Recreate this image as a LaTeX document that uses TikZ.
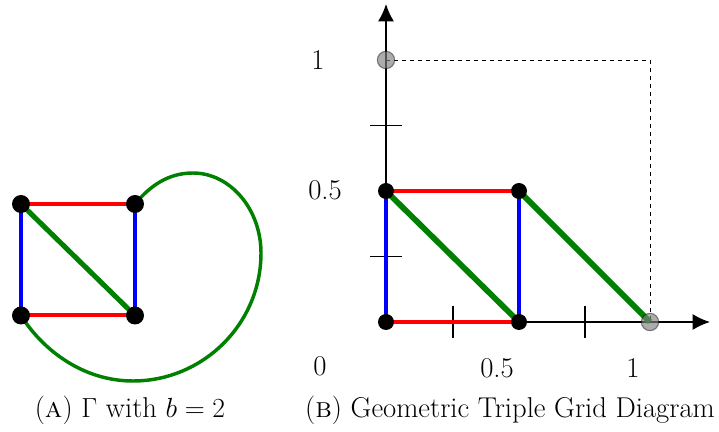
\documentclass[tikz,border=0pt]{standalone}
\usetikzlibrary{arrows.meta}
\definecolor{ggreen}{RGB}{0,128,0}
\begin{document}
\begin{tikzpicture}[x=0.75pt,y=0.75pt,
  dot/.style={circle,fill=black,inner sep=0pt,minimum size=13.5pt},
  sdot/.style={circle,fill=black,inner sep=0pt,minimum size=12pt},
  gdot/.style={circle,fill=gray,fill opacity=0.65,draw=black,draw opacity=0.45,line width=0.8pt,inner sep=0pt,minimum size=13pt},
  redl/.style={red,line width=3pt},
  bluel/.style={blue,line width=3pt},
  greenl/.style={ggreen,line width=3.8pt},
  greenc/.style={ggreen,line width=2.6pt},
  axis/.style={line width=1.2pt,-{Latex[length=13pt,width=12pt]}},
  tick/.style={line width=1.2pt},
  lab/.style={font=\fontsize{21.5}{26}\selectfont},
  font=\fontsize{21.5}{26}\selectfont]
\useasboundingbox (0,0) rectangle (719,432);
% left graph
\coordinate (tl) at (21,228);
\coordinate (tr) at (135,228);
\coordinate (bl) at (21,116.5);
\coordinate (br) at (135,116.5);
\draw[redl] (tl) -- (tr);
\draw[redl] (bl) -- (br);
\draw[bluel] (tl) -- (bl);
\draw[bluel] (tr) -- (br);
\draw[greenl] (tl) -- (br);
\draw[greenc] (tr) .. controls (150,246) and (168,259) .. (193,259)
  .. controls (230,259) and (261,223) .. (261,179)
  .. controls (261,108) and (203,51) .. (133,51)
  .. controls (82,51) and (42,83) .. (bl);
\node[dot] (ntl) at (tl) {};
\node[dot] (ntr) at (tr) {};
\node[dot] (nbl) at (bl) {};
\node[dot] (nbr) at (br) {};
% right diagram
\coordinate (O) at (386,110);
\coordinate (xe) at (710,110);
\coordinate (ye) at (386,428);
\coordinate (p01) at (386,372);
\coordinate (p11) at (650,372);
\coordinate (p10) at (650,110);
\coordinate (a) at (386,241);
\coordinate (b) at (519,241);
\coordinate (c) at (519,110);
\draw[dashed,line width=0.7pt] (p01) -- (p11) -- (p10);
\draw[axis] (O) -- (xe);
\draw[axis] (O) -- (ye);
\draw[tick] (453,94) -- (453,126);
\draw[tick] (585,94) -- (585,126);
\draw[tick] (370,175.5) -- (402,175.5);
\draw[tick] (370,306.5) -- (402,306.5);
\draw[redl] (a) -- (b);
\draw[redl] (O) -- (c);
\draw[bluel] (a) -- (O);
\draw[bluel] (b) -- (c);
\draw[greenl,line width=4.3pt] (a) -- (c);
\draw[greenl,line width=4.3pt] (b) -- (p10);
\node[sdot] (na) at (a) {};
\node[sdot] (nb) at (b) {};
\node[sdot] (nO) at (O) {};
\node[sdot] (nc) at (c) {};
\node[gdot] (g1) at (p01) {};
\node[gdot] (g2) at (p10) {};
\node[lab] (l1y) at (318,372) {1};
\node[lab] (l05y) at (325,242) {0.5};
\node[lab] (l0) at (320,66) {0};
\node[lab] (l05x) at (497,64) {0.5};
\node[lab] (l1x) at (633,64) {1};
\node (capa) at (130,22) {(\textsc{a}) $\Gamma$ with $b=2$};
\node (capb) at (510,22) {(\textsc{b}) Geometric Triple Grid Diagram};
\end{tikzpicture}
\end{document}
